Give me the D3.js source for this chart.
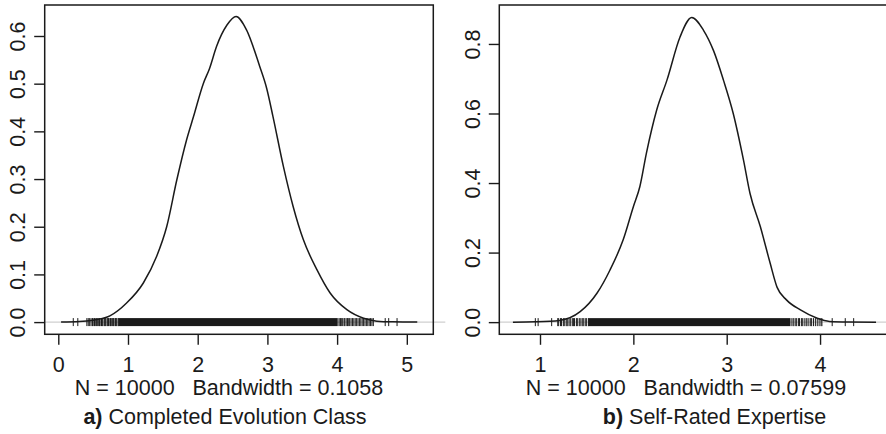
<!DOCTYPE html>
<html>
<head>
<meta charset="utf-8">
<script src="https://cdn.jsdelivr.net/npm/d3@7"></script>
<style>
  body { margin: 0; background: #fff; }
  svg { display: block; font-family: "Liberation Sans", Arial, Helvetica, sans-serif; }
</style>
</head>
<body>
<svg id="chart"></svg>
<script>
let width = 886;
let height = 434;

// panel a) Completed Evolution Class - density estimate
let evoX = [0.04, 0.3, 0.5, 0.74, 0.98, 1.22, 1.41, 1.555, 1.70, 1.84, 1.94, 2.08, 2.17, 2.27, 2.42, 2.55, 2.70, 2.89, 2.99, 3.08, 3.23, 3.37, 3.515, 3.71, 3.90, 4.14, 4.38, 4.57, 4.8, 5.15];
let evoY = [0, 0.001, 0.004, 0.013, 0.04, 0.082, 0.1375, 0.2, 0.298, 0.382, 0.431, 0.50, 0.532, 0.578, 0.623, 0.641, 0.613, 0.536, 0.49, 0.431, 0.326, 0.242, 0.173, 0.11, 0.061, 0.026, 0.008, 0.002, 0.0005, 0];
let evoRug = [0.215, 0.28, 0.41, 0.43, 0.45, 0.47, 0.49, 0.5, 0.52, 0.53, 0.55, 0.56, 0.58, 0.59, 0.6, 0.62, 0.63, 0.64, 0.66, 0.67, 0.68, 0.7, 0.71, 0.72, 0.74, 0.75, 0.76, 0.78, 0.79, 0.8, 0.82, 0.83, 0.84, 0.86,
  4.01, 4.03, 4.05, 4.06, 4.08, 4.1, 4.11, 4.13, 4.15, 4.16, 4.18, 4.2, 4.22, 4.24, 4.26, 4.28, 4.3, 4.32, 4.34, 4.36, 4.38, 4.4, 4.42, 4.44, 4.46, 4.48, 4.5, 4.52, 4.69, 4.74, 4.86];
let evoRugBand = [0.86, 4.0];
let evoXTicks = [0, 1, 2, 3, 4, 5];
let evoYTicks = [0, 0.1, 0.2, 0.3, 0.4, 0.5, 0.6];

// panel b) Self-Rated Expertise
let expX = [0.71, 0.95, 1.21, 1.43, 1.61, 1.75, 1.89, 2.0, 2.07, 2.14, 2.25, 2.36, 2.50, 2.625, 2.75, 2.86, 2.965, 3.07, 3.18, 3.25, 3.36, 3.465, 3.54, 3.64, 3.79, 3.97, 4.1, 4.3, 4.6];
let expY = [0, 0.001, 0.005, 0.03, 0.083, 0.15, 0.236, 0.332, 0.39, 0.486, 0.61, 0.696, 0.82, 0.876, 0.84, 0.78, 0.696, 0.60, 0.466, 0.37, 0.275, 0.17, 0.10, 0.064, 0.035, 0.011, 0.002, 0.0005, 0];
let expRug = [0.95, 0.98, 1.125, 1.19, 1.2, 1.22, 1.23, 1.25, 1.26, 1.28, 1.29, 1.3, 1.32, 1.33, 1.35, 1.36, 1.37, 1.39, 1.4, 1.42, 1.43, 1.45, 1.46, 1.47, 1.49, 1.5, 1.52,
  3.69, 3.71, 3.72, 3.74, 3.75, 3.77, 3.78, 3.8, 3.81, 3.83, 3.85, 3.86, 3.88, 3.9, 3.91, 3.93, 3.95, 3.97, 3.99, 4.01, 4.02, 4.13, 4.27, 4.36];
let expRugBand = [1.52, 3.68];
let expXTicks = [1, 2, 3, 4];
let expYTicks = [0, 0.2, 0.4, 0.6, 0.8];

let panels = [
  {
    xs: evoX, ys: evoY, rug: evoRug, band: evoRugBand, xTicks: evoXTicks, yTicks: evoYTicks,
    xDomain: [-0.195, 5.38], yDomain: [-0.0256, 0.665], left: 44.7, right: 433.3,
    sub: 'N = 10000   Bandwidth = 0.1058', subX: 229, tag: 'a)', title: ' Completed Evolution Class', titleX: 225
  },
  {
    xs: expX, ys: expY, rug: expRug, band: expRugBand, xTicks: expXTicks, yTicks: expYTicks,
    xDomain: [0.564, 4.76], yDomain: [-0.035, 0.912], left: 499.3, right: 891,
    sub: 'N = 10000   Bandwidth = 0.07599', subX: 686, tag: 'b)', title: ' Self-Rated Expertise', titleX: 714.5
  }
];

let plotTop = 5;
let plotBottom = 334.3;
let fontSize = 21.5;
let ink = '#1a1a1a';

let svg = d3.select('#chart')
  .attr('width', width)
  .attr('height', height);

panels.forEach(p => {
  let xScale = d3.scaleLinear().domain(p.xDomain).range([p.left, p.right]);
  let yScale = d3.scaleLinear().domain(p.yDomain).range([plotBottom, plotTop]);
  let g = svg.append('g');

  // zero line
  g.append('line')
    .attr('x1', p.left)
    .attr('x2', p.right + 12)
    .attr('y1', yScale(0))
    .attr('y2', yScale(0))
    .attr('stroke', '#cfcfcf')
    .attr('stroke-width', 1.2);

  // density curve
  let line = d3.line()
    .x(d => xScale(d[0]))
    .y(d => yScale(d[1]))
    .curve(d3.curveMonotoneX);

  g.append('path')
    .datum(d3.zip(p.xs, p.ys))
    .attr('d', line)
    .attr('fill', 'none')
    .attr('stroke', ink)
    .attr('stroke-width', 1.5);

  // rug: solid band where the ticks overlap, single ticks in the tails
  let rugHalf = 4;
  g.append('rect')
    .attr('x', xScale(p.band[0]))
    .attr('width', xScale(p.band[1]) - xScale(p.band[0]))
    .attr('y', yScale(0) - rugHalf)
    .attr('height', rugHalf * 2)
    .attr('fill', ink);

  g.selectAll('.rug')
    .data(p.rug)
    .enter()
    .append('line')
    .attr('x1', d => xScale(d))
    .attr('x2', d => xScale(d))
    .attr('y1', yScale(0) - rugHalf)
    .attr('y2', yScale(0) + rugHalf)
    .attr('stroke', ink)
    .attr('stroke-width', 1);

  // box
  g.append('rect')
    .attr('x', p.left)
    .attr('y', plotTop)
    .attr('width', p.right - p.left)
    .attr('height', plotBottom - plotTop)
    .attr('fill', 'none')
    .attr('stroke', ink)
    .attr('stroke-width', 1.5);

  // x axis
  let xAxis = d3.axisBottom(xScale)
    .tickValues(p.xTicks)
    .tickSize(10.5)
    .tickSizeOuter(0)
    .tickFormat(d3.format('d'));

  let gx = g.append('g')
    .attr('transform', `translate(0,${plotBottom})`)
    .call(xAxis);
  gx.select('.domain').remove();
  gx.selectAll('line').attr('stroke', ink).attr('stroke-width', 1.4);
  gx.selectAll('text')
    .attr('y', 37.4)
    .attr('dy', 0)
    .attr('fill', ink)
    .style('font-size', fontSize + 'px');

  // y axis, labels turned like R's las = 0
  let yAxis = d3.axisLeft(yScale)
    .tickValues(p.yTicks)
    .tickSize(10.5)
    .tickSizeOuter(0)
    .tickFormat(d3.format('.1f'));

  let gy = g.append('g')
    .attr('transform', `translate(${p.left},0)`)
    .call(yAxis);
  gy.select('.domain').remove();
  gy.selectAll('line').attr('stroke', ink).attr('stroke-width', 1.4);
  gy.selectAll('text')
    .attr('transform', 'rotate(-90)')
    .attr('x', 0)
    .attr('y', -19.5)
    .attr('dy', 0)
    .attr('text-anchor', 'middle')
    .attr('fill', ink)
    .style('font-size', fontSize + 'px');

  // sub label and panel title
  g.append('text')
    .attr('x', p.subX)
    .attr('y', 395)
    .attr('text-anchor', 'middle')
    .attr('fill', ink)
    .style('font-size', fontSize + 'px')
    .style('white-space', 'pre')
    .text(p.sub);

  let t = g.append('text')
    .attr('x', p.titleX)
    .attr('y', 423.5)
    .attr('text-anchor', 'middle')
    .attr('fill', ink)
    .style('font-size', fontSize + 'px');
  t.append('tspan').attr('font-weight', 'bold').text(p.tag);
  t.append('tspan').text(p.title);
});
</script>
</body>
</html>
